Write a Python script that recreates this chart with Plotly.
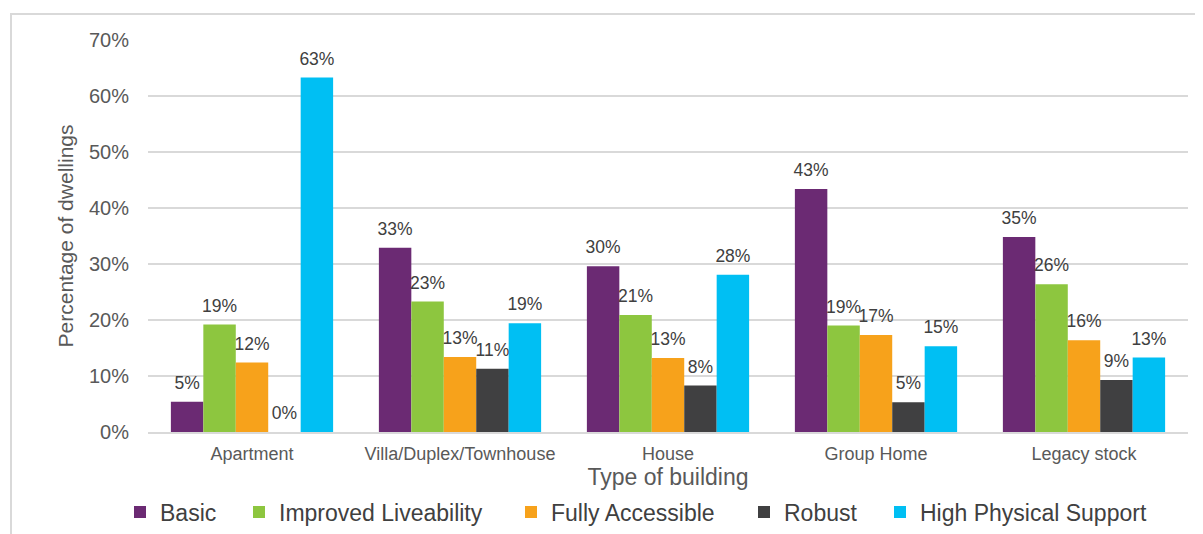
import plotly.graph_objects as go

categories = ["Apartment", "Villa/Duplex/Townhouse", "House", "Group Home", "Legacy stock"]
series_names = ["Basic", "Improved Liveability", "Fully Accessible", "Robust", "High Physical Support"]
basic = [5.4, 32.9, 29.6, 43.4, 34.8]
improved = [19.2, 23.3, 20.9, 19.0, 26.4]
fully = [12.4, 13.4, 13.2, 17.3, 16.4]
robust = [0.0, 11.3, 8.3, 5.3, 9.3]
high_support = [63.3, 19.4, 28.1, 15.3, 13.3]
colors = ["#6B2A73", "#8DC63F", "#F7A21B", "#404041", "#00BFF3"]
y_ticks = [0, 10, 20, 30, 40, 50, 60, 70]

values = [basic, improved, fully, robust, high_support]
font_family = "Liberation Sans, Arial, sans-serif"

# the page body adds an 8px margin, so the figure is sized/shifted accordingly
OFF = 8
W, H = 1203 - OFF, 534 - OFF
L, T = 148 - OFF, 40 - OFF
R = W - (1188 - OFF)
B = H - (432 - OFF)
PW = W - L - R
PH = H - T - B

legend_names = ["legend", "legend2", "legend3", "legend4", "legend5"]
legend_marker_px = [140, 259, 531, 764, 900]  # page x of marker centres

fig = go.Figure()
for j, (name, vals, col, lg) in enumerate(zip(series_names, values, colors, legend_names)):
    fig.add_trace(go.Bar(
        x=categories, y=vals, name=name, legend=lg, offsetgroup=str(j),
        marker=dict(color=col, line=dict(width=0)),
    ))
for j, vals in enumerate(values):
    fig.add_trace(go.Scatter(
        x=categories, y=vals, mode="markers+text", offsetgroup=str(j),
        marker=dict(size=12, opacity=0), showlegend=False, hoverinfo="skip",
        text=[f"{v:.0f}%" for v in vals], textposition="top center",
        textfont=dict(size=17.5, color="#404040", family=font_family),
        cliponaxis=False,
    ))

legend_layout = {}
for lg, mx in zip(legend_names, legend_marker_px):
    legend_layout[lg] = dict(
        orientation="h", x=(mx - OFF - 20 - L) / PW, xanchor="left",
        y=(T + PH - (512 - OFF)) / PH, yanchor="middle",
        font=dict(size=23, color="#404040", family=font_family),
        bgcolor="rgba(0,0,0,0)", borderwidth=0, itemwidth=30,
    )

fig.update_layout(
    width=W, height=H,
    barmode="group", bargap=0.22, bargroupgap=0,
    scattermode="group", scattergap=0.22,
    paper_bgcolor="white", plot_bgcolor="white",
    margin=dict(l=L, r=R, t=T, b=B, autoexpand=False),
    font=dict(family=font_family, color="#595959"),
    showlegend=True,
    **legend_layout,
)
fig.update_yaxes(range=[0, 70], tickvals=y_ticks, ticktext=[f"{v}%" for v in y_ticks],
                 showgrid=True, gridcolor="#D9D9D9", gridwidth=1.5, zeroline=False,
                 tickfont=dict(size=20, color="#595959"), ticks="outside", ticklen=14,
                 tickcolor="rgba(0,0,0,0)",
                 title=dict(text="Percentage of dwellings", font=dict(size=21, color="#595959"), standoff=9))
fig.update_xaxes(showline=True, linecolor="#D9D9D9", linewidth=1.5,
                 ticks="outside", ticklen=5, tickcolor="rgba(0,0,0,0)",
                 tickfont=dict(size=18, color="#595959"),
                 title=dict(text="Type of building", font=dict(size=23, color="#595959"), standoff=5))

fig.add_shape(type="rect", xref="paper", yref="paper",
              x0=(11 - OFF - L) / PW, x1=1.05, y0=-0.35, y1=(T + PH - (14 - OFF)) / PH,
              line=dict(color="#D9D9D9", width=2), fillcolor="rgba(0,0,0,0)", layer="below")

fig.write_html("out.html")
